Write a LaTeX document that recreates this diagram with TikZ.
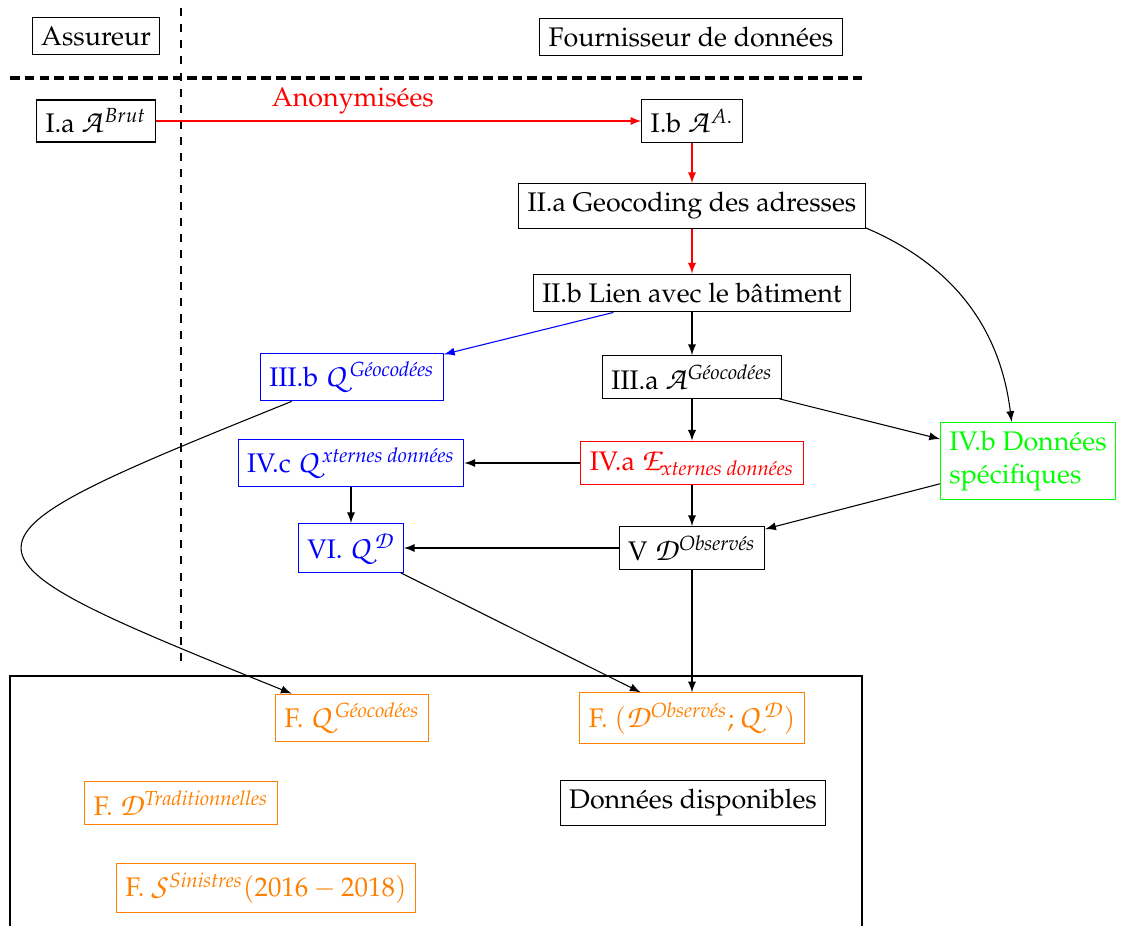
\documentclass[tikz,border=0pt]{standalone}
\usepackage[T1]{fontenc}
\usepackage{amsmath}
\usepackage{mathpazo}
\DeclareFontFamily{OT1}{pzcs}{}
\DeclareFontShape{OT1}{pzcs}{m}{it}{<-> s * [1.2] pzcmi7t}{}
\DeclareMathAlphabet{\mathcal}{OT1}{pzcs}{m}{it}
\usetikzlibrary{calc}
\tikzset{
  box/.style={draw, inner sep=3.3pt},
  bbox/.style={box, draw=blue, text=blue},
  rbox/.style={box, draw=red, text=red},
  gbox/.style={box, draw=green, text=green, align=left},
  obox/.style={box, draw=orange, text=orange},
  arr/.style={->, >=latex},
}
\begin{document}
\begin{tikzpicture}[x=0.372pt, y=0.372pt]
\useasboundingbox (0,0) rectangle (1123,-926);
% separators
\draw[dashed] (181,-8) coordinate (vtop) -- (181,-668) coordinate (vbot);
\draw[line width=1.45pt, dash pattern=on 3.6pt off 1.9pt] (10,-78) coordinate (hl) -- (862,-78) coordinate (hr);
% bottom frame
\draw (10,-960) coordinate (fa) -- (10,-676) coordinate (fb) -- (862,-676) coordinate (fc) -- (862,-960) coordinate (fd);
% nodes
\node[box] (ass) at (96,-36) {Assureur};
\node[box] (four) at (691,-37) {Fournisseur de données};
\node[box] (Ia) at (96,-121) {I.a $\mathcal{A}^{Brut}$};
\node[box] (Ib) at (692,-121) {I.b $\mathcal{A}^{A.}$};
\node[box] (IIa) at (692,-206) {II.a Geocoding des adresses};
\node[box] (IIb) at (692,-293) {II.b Lien avec le bâtiment};
\node[bbox] (IIIb) at (352,-377) {III.b $\mathcal{Q}^{\textit{Géocodées}}$};
\node[box] (IIIa) at (692,-377) {III.a $\mathcal{A}^{\textit{Géocodées}}$};
\node[bbox] (IVc) at (351,-463) {IV.c $\mathcal{Q}^{\textit{xternes données}}$};
\node[rbox] (IVa) at (692,-463) {IV.a $\mathcal{E}_{\textit{xternes données}}$};
\node[gbox, anchor=west] (IVb) at (940,-461) {IV.b Données\hspace{2.5pt}\\spécifiques};
\node[bbox] (VI) at (351,-548) {VI. $\mathcal{Q}^{\mathcal{D}}$};
\node[box] (V) at (692,-548) {V $\mathcal{D}^{\textit{Observés}}$};
\node[obox] (FQ) at (352,-718) {F. $\mathcal{Q}^{\textit{Géocodées}}$};
\node[obox] (FDQ) at (692,-718) {F. $(\mathcal{D}^{\textit{Observés}};\mathcal{Q}^{\mathcal{D}})$};
\node[obox] (FD) at (181,-803) {F. $\mathcal{D}^{\textit{Traditionnelles}}$};
\node[box] (dispo) at (693,-803) {Données disponibles};
\node[obox] (FS) at (266,-888) {F. $\mathcal{S}^{\textit{Sinistres}}(2016-2018)$};
% connectors
\draw[arr, red] (Ia) -- node[pos=0.406, above=-1pt, text=red] (anon) {Anonymisées} (Ib);
\draw[arr, red] (Ib) -- (IIa);
\draw[arr, red] (IIa) -- (IIb);
\draw[arr] (IIb) -- (IIIa);
\draw[arr, blue] (IIb) -- (IIIb);
\draw[arr] (IIa) to[bend left=30] (IVb);
\draw[arr] (IIIa) -- (IVb);
\draw[arr] (IIIa) -- (IVa);
\draw[arr] (IVa) -- (IVc);
\draw[arr] (IVc) -- (VI);
\draw[arr] (IVa) -- (V);
\draw[arr] (IVb) -- (V);
\draw[arr] (V) -- (VI);
\draw[arr] (V) -- (FDQ);
\draw[arr] (VI) -- (FDQ);
\draw[arr] (IIIb) to[bend right=68, looseness=3.4] (FQ);
\end{tikzpicture}
\end{document}
